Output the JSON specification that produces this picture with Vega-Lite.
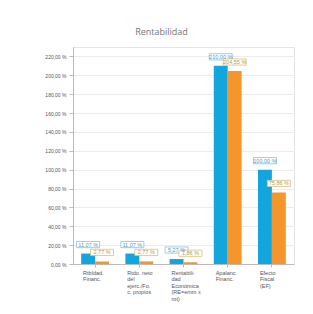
{
  "$schema": "https://vega.github.io/schema/vega-lite/v6.json",
  "width": 221,
  "height": 217,
  "autosize": {"type": "none"},
  "padding": {"left": 73, "top": 47, "right": 19, "bottom": 50},
  "background": "white",
  "title": {"text": "Rentabilidad", "anchor": "middle", "frame": "group", "dx": -22, "offset": 10, "fontSize": 9, "font": "Open Sans", "fontWeight": "normal", "color": "#777777"},
  "data": {"values": [
    {"cat": "Rtbldad.|Financ.", "serie": "A", "value": 11.07},
    {"cat": "Rtbldad.|Financ.", "serie": "B", "value": 2.77},
    {"cat": "Rtdo. neto|del|ejerc./Fo.|c. propios", "serie": "A", "value": 11.07},
    {"cat": "Rtdo. neto|del|ejerc./Fo.|c. propios", "serie": "B", "value": 2.77},
    {"cat": "Rentabili-|dad|Económica|(RE=emm x|rot)", "serie": "A", "value": 5.27},
    {"cat": "Rentabili-|dad|Económica|(RE=emm x|rot)", "serie": "B", "value": 1.86},
    {"cat": "Apalanc.|Financ.", "serie": "A", "value": 210.00},
    {"cat": "Apalanc.|Financ.", "serie": "B", "value": 204.55},
    {"cat": "Efecto|Fiscal|(EF)", "serie": "A", "value": 100.00},
    {"cat": "Efecto|Fiscal|(EF)", "serie": "B", "value": 75.86}
  ]},
  "transform": [
    {"calculate": "replace(format(datum.value, '.2f'), '.', ',') + ' %'", "as": "lbl"}
  ],
  "encoding": {
    "x": {
      "field": "cat", "type": "nominal", "sort": null,
      "scale": {"paddingInner": 0.37, "paddingOuter": 0.185},
      "axis": {
        "title": null, "labelAngle": 0, "labelAlign": "left", "labelBaseline": "top",
        "labelOffset": -12, "labelPadding": 3,
        "labelExpr": "split(datum.value, '|')",
        "labelFont": "Liberation Sans", "labelFontSize": 5.5, "labelColor": "#555555", "labelLineHeight": 6.5,
        "domainColor": "#bbbbbb", "tickColor": "#bbbbbb", "tickSize": 3, "grid": false
      }
    },
    "xOffset": {"field": "serie", "type": "nominal", "scale": {"paddingInner": 0, "paddingOuter": 0}},
    "y": {
      "field": "value", "type": "quantitative",
      "scale": {"domain": [0, 230], "nice": false},
      "axis": {
        "title": null, "values": [0, 20, 40, 60, 80, 100, 120, 140, 160, 180, 200, 220],
        "labelExpr": "replace(format(datum.value, '.2f'), '.', ',') + ' %'",
        "labelFont": "Liberation Sans", "labelFontSize": 5, "labelColor": "#555555",
        "labelPadding": 3, "tickSize": 4, "tickColor": "#bbbbbb", "domainColor": "#bbbbbb",
        "gridColor": "#ececec"
      }
    },
    "color": {
      "field": "serie", "type": "nominal",
      "scale": {"domain": ["A", "B"], "range": ["#13A6DE", "#F4962C"]},
      "legend": null
    }
  },
  "layer": [
    {"mark": {"type": "bar"}},
    {
      "mark": {"type": "point", "shape": "M-1,-0.27H1V0.27H-1Z", "size": 529, "filled": false, "fill": "white", "fillOpacity": 1, "strokeWidth": 0.8, "yOffset": -9, "opacity": 1},
      "encoding": {
        "stroke": {"field": "serie", "type": "nominal", "scale": {"domain": ["A", "B"], "range": ["#86c2de", "#d6c27c"]}, "legend": null},
        "color": {"value": null}
      }
    },
    {
      "mark": {"type": "text", "font": "Liberation Sans", "fontSize": 5.5, "yOffset": -9, "baseline": "middle", "align": "center"},
      "encoding": {
        "text": {"field": "lbl"},
        "color": {"field": "serie", "type": "nominal", "scale": {"domain": ["A", "B"], "range": ["#4f9cc6", "#b39a4e"]}, "legend": null}
      }
    }
  ],
  "resolve": {"scale": {"color": "independent", "stroke": "independent"}},
  "config": {"view": {"stroke": "#e4e4e4"}}
}
